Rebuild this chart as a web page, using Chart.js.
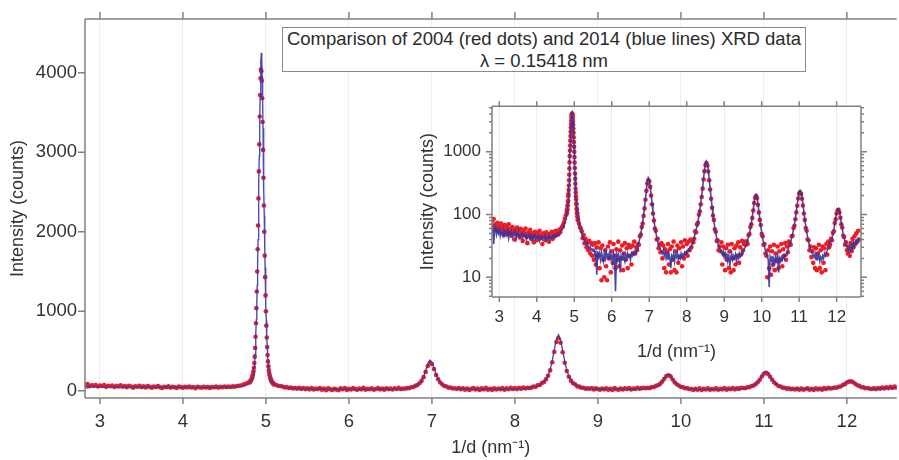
<!DOCTYPE html>
<html>
<head>
<meta charset="utf-8">
<script src="https://cdn.jsdelivr.net/npm/chart.js@4.4.1/dist/chart.umd.min.js"></script>
<style>
  html, body { margin: 0; padding: 0; background: #fff; }
  #wrap { position: relative; width: 899px; height: 460px; overflow: hidden; font-family: "Liberation Sans", Arial, Helvetica, sans-serif; }
  #main { position: absolute; left: 0; top: 0; }
  #inset { position: absolute; left: 400px; top: 85px; }
  #note { position: absolute; left: 282px; top: 27px; width: 522px; height: 43px; border: 1.5px solid #8a8a8a; background: #fff;
          text-align: center; font-size: 18.5px; line-height: 22px; color: #2b2b2b; }
</style>
</head>
<body>
<div id="wrap">
  <canvas id="main" width="899" height="460"></canvas>
  <canvas id="inset" width="499" height="280"></canvas>
  <div id="note">Comparison of 2004 (red dots) and 2014 (blue lines) XRD data<br>&lambda; = 0.15418 nm</div>
</div>
<script>
// 1/d sampling positions (nm^-1): low side, fine grid over the big peak, rest
var xLow = [
  2.8,2.825,2.85,2.875,2.9,2.925,2.95,2.975,3,3.025,3.05,3.075,3.1,3.125,3.15,3.175,3.2,3.225,3.25,3.275,
  3.3,3.325,3.35,3.375,3.4,3.425,3.45,3.475,3.5,3.525,3.55,3.575,3.6,3.625,3.65,3.675,3.7,3.725,3.75,3.775,
  3.8,3.825,3.85,3.875,3.9,3.925,3.95,3.975,4,4.025,4.05,4.075,4.1,4.125,4.15,4.175,4.2,4.225,4.25,4.275,
  4.3,4.325,4.35,4.375,4.4,4.425,4.45,4.475,4.5,4.525,4.55,4.575,4.6,4.625,4.65,4.675,4.7,4.725,4.75,4.775
];
var xMain = [
  4.8,4.805,4.81,4.815,4.82,4.825,4.83,4.835,4.84,4.845,4.85,4.855,4.86,4.865,4.87,4.875,4.88,4.885,4.89,4.895,
  4.9,4.905,4.91,4.915,4.92,4.925,4.93,4.935,4.94,4.945,4.95,4.955,4.96,4.965,4.97,4.975,4.98,4.985,4.99,4.995,
  5,5.005,5.01,5.015,5.02,5.025,5.03,5.035,5.04,5.045,5.05,5.055,5.06,5.065,5.07,5.075,5.08,5.085,5.09,5.095,
  5.1
];
var xHigh = [
  5.125,5.15,5.175,5.2,5.225,5.25,5.275,5.3,5.325,5.35,5.375,5.4,5.425,5.45,5.475,5.5,5.525,5.55,5.575,5.6,
  5.625,5.65,5.675,5.7,5.725,5.75,5.775,5.8,5.825,5.85,5.875,5.9,5.925,5.95,5.975,6,6.025,6.05,6.075,6.1,
  6.125,6.15,6.175,6.2,6.225,6.25,6.275,6.3,6.325,6.35,6.375,6.4,6.425,6.45,6.475,6.5,6.525,6.55,6.575,6.6,
  6.625,6.65,6.675,6.7,6.725,6.75,6.775,6.8,6.825,6.85,6.875,6.9,6.925,6.95,6.975,7,7.025,7.05,7.075,7.1,
  7.125,7.15,7.175,7.2,7.225,7.25,7.275,7.3,7.325,7.35,7.375,7.4,7.425,7.45,7.475,7.5,7.525,7.55,7.575,7.6,
  7.625,7.65,7.675,7.7,7.725,7.75,7.775,7.8,7.825,7.85,7.875,7.9,7.925,7.95,7.975,8,8.025,8.05,8.075,8.1,
  8.125,8.15,8.175,8.2,8.225,8.25,8.275,8.3,8.325,8.35,8.375,8.4,8.425,8.45,8.475,8.5,8.525,8.55,8.575,8.6,
  8.625,8.65,8.675,8.7,8.725,8.75,8.775,8.8,8.825,8.85,8.875,8.9,8.925,8.95,8.975,9,9.025,9.05,9.075,9.1,
  9.125,9.15,9.175,9.2,9.225,9.25,9.275,9.3,9.325,9.35,9.375,9.4,9.425,9.45,9.475,9.5,9.525,9.55,9.575,9.6,
  9.625,9.65,9.675,9.7,9.725,9.75,9.775,9.8,9.825,9.85,9.875,9.9,9.925,9.95,9.975,10,10.025,10.05,10.075,10.1,
  10.125,10.15,10.175,10.2,10.225,10.25,10.275,10.3,10.325,10.35,10.375,10.4,10.425,10.45,10.475,10.5,10.525,10.55,10.575,10.6,
  10.625,10.65,10.675,10.7,10.725,10.75,10.775,10.8,10.825,10.85,10.875,10.9,10.925,10.95,10.975,11,11.025,11.05,11.075,11.1,
  11.125,11.15,11.175,11.2,11.225,11.25,11.275,11.3,11.325,11.35,11.375,11.4,11.425,11.45,11.475,11.5,11.525,11.55,11.575,11.6,
  11.625,11.65,11.675,11.7,11.725,11.75,11.775,11.8,11.825,11.85,11.875,11.9,11.925,11.95,11.975,12,12.025,12.05,12.075,12.1,
  12.125,12.15,12.175,12.2,12.225,12.25,12.275,12.3,12.325,12.35,12.375,12.4,12.425,12.45,12.475,12.5,12.525,12.55,12.575,12.6
];

// 2014 data (blue line), counts
var blueLow = [
  52,61,34,55,63,48,57,50,58,46,55,51,44,56,49,53,47,55,42,52,
  49,54,45,50,47,53,41,49,46,51,44,48,50,43,47,45,49,40,46,44,
  48,42,45,39,46,43,47,41,44,42,46,38,43,45,40,44,42,46,39,43,
  41,45,40,44,42,46,43,47,44,48,46,50,49,53,55,58,62,68,76,88
];
var blueMain = [
  105,108,112,118,125,133,142,155,170,190,215,250,300,370,460,580,720,900,1100,1330,
  1600,1900,2250,2600,2950,3350,3700,3950,4150,4250,4150,3950,3650,3300,2900,2550,2200,1850,1550,1300,
  1080,880,700,560,450,360,300,250,215,190,170,155,142,132,122,114,107,100,95,90,
  86
];
var blueHigh = [
  74,65,57,50,46,41,39,36,33,35,30,29,31,27,28,26,29,22,25,11,
  26,21,24,19,25,22,18,24,20,26,21,23,19,25,20,22,17,24,20,6,
  23,19,24,21,12,22,19,25,21,18,23,20,24,21,22,19,24,22,25,23,
  26,25,28,31,36,42,50,60,75,98,130,180,250,330,385,360,290,210,150,110,
  82,64,52,44,38,33,30,28,26,24,27,22,25,20,23,19,24,21,14,22,
  20,24,18,23,21,25,19,22,20,24,21,23,22,25,23,26,25,28,27,30,
  32,35,39,44,50,57,66,78,95,118,150,200,270,380,520,650,705,640,510,370,
  260,185,135,100,78,62,50,42,36,32,29,27,25,23,26,21,24,20,23,19,
  22,15,21,24,19,22,20,23,18,22,20,24,21,23,25,24,27,29,32,35,
  39,44,51,60,73,92,120,160,195,208,190,150,112,85,66,52,43,36,31,27,
  25,22,19,7,21,18,22,16,20,17,21,19,22,12,20,18,21,19,22,20,
  23,22,25,27,30,33,37,42,49,58,70,88,112,145,190,228,242,225,188,145,
  110,84,66,53,44,37,32,28,26,24,23,21,24,19,22,20,23,18,21,19,
  22,20,24,22,25,27,29,32,35,38,42,48,57,70,88,108,122,125,112,92,
  73,59,49,42,37,33,31,28,26,30,27,33,29,36,32,38,35,40,37,42
];

// 2004 data (red dots), counts
var redLow = [
  78,66,85,58,70,62,74,55,67,60,72,50,64,57,68,48,62,55,70,52,
  60,46,63,54,40,58,51,62,47,56,43,59,50,38,55,48,60,44,35,52,
  46,57,41,50,45,36,53,47,39,51,44,55,42,48,34,50,45,39,52,43,
  47,37,49,44,53,41,50,45,55,47,53,48,57,52,60,64,68,75,86,97
];
var redMain = [
  112,104,121,119,137,140,161,166,196,211,245,290,350,430,540,680,850,1040,1250,1500,
  1780,2080,2420,2760,3100,3450,3720,3930,4040,4020,3900,3680,3380,3030,2680,2330,2000,1700,1430,1200,
  1000,820,670,550,450,370,310,260,225,195,175,150,144,124,121,106,104,93,92,81,
  83
];
var redHigh = [
  72,63,60,54,42,47,35,41,30,36,27,38,24,35,22,33,19,35,16,30,
  22,36,14,29,9,32,19,10,27,15,9,31,20,36,12,26,17,34,22,14,
  28,19,37,15,27,20,32,13,24,35,19,29,14,33,22,30,16,32,24,37,
  24,30,27,34,33,45,48,63,72,95,125,172,238,312,352,338,275,200,145,104,
  80,60,55,40,41,29,33,25,35,20,32,14,28,12,25,34,16,28,12,31,
  19,37,13,26,12,32,17,29,21,36,15,31,20,39,24,34,22,37,27,40,
  30,38,36,41,54,52,70,74,99,112,146,190,258,360,490,615,662,605,485,352,
  250,178,128,96,82,58,53,38,39,27,31,26,36,16,31,23,13,29,19,33,
  14,26,12,34,20,13,29,16,32,22,36,17,30,23,38,27,34,37,33,37,
  34,47,49,63,70,88,116,152,186,196,182,143,108,82,68,49,45,33,34,24,
  22,10,27,14,31,11,26,16,33,13,24,18,31,14,26,19,34,15,28,22,
  35,19,31,25,37,35,33,45,46,61,66,84,108,138,180,215,226,212,178,139,
  104,82,61,55,40,39,27,31,21,26,17,30,14,29,13,24,33,14,27,12,
  31,17,29,13,34,23,37,30,33,41,39,51,54,73,84,104,116,119,108,89,
  70,62,46,44,33,36,27,24,31,22,35,26,41,30,45,34,50,37,55,40
];

// axis ticks
var mainXTicks = [3,4,5,6,7,8,9,10,11,12];
var mainYTicks = [0,1000,2000,3000,4000];
var insetXTicks = [3,4,5,6,7,8,9,10,11,12];
var insetYTicks = [10,100,1000];
var insetYMinor = [5,6,7,8,9,20,30,40,50,60,70,80,90,200,300,400,500,600,700,800,900,2000,3000,4000,5000];

var FONT = '"Liberation Sans", Arial, Helvetica, sans-serif';
var TEXT = '#333333';
var AXIS = '#808080';
var XTITLE = '1/d (nm\u207B\u00B9)';

var xs = xLow.concat(xMain, xHigh);
var blue2014 = blueLow.concat(blueMain, blueHigh);
var red2004 = redLow.concat(redMain, redHigh);

function pts(ys){
    return xs.map(function(x, i){ return {x: x, y: ys[i]}; });
}

function setTicks(list){
    return function(axis){
        axis.ticks = list.map(function(v){ return {value: v}; });
    };
}

// frame lines and outward tick marks, drawn the way the original plot does them
var framePlugin = {
    id: 'frame',
    beforeDraw: function(chart, args, opts){
        if(opts.fill){
            var a = chart.chartArea;
            chart.ctx.save();
            chart.ctx.fillStyle = opts.fill;
            chart.ctx.fillRect(a.left, a.top, a.right - a.left, a.bottom - a.top);
            chart.ctx.restore();
        }
    },
    afterDraw: function(chart, args, opts){
        var ctx = chart.ctx, a = chart.chartArea;
        var sx = chart.scales.x, sy = chart.scales.y;
        var sides = opts.sides || [];
        ctx.save();
        ctx.strokeStyle = opts.color;
        ctx.lineWidth = opts.width;
        ctx.beginPath();
        if(sides.indexOf('left') >= 0){ ctx.moveTo(a.left, a.top); ctx.lineTo(a.left, a.bottom); }
        if(sides.indexOf('right') >= 0){ ctx.moveTo(a.right, a.top); ctx.lineTo(a.right, a.bottom); }
        if(sides.indexOf('top') >= 0){ ctx.moveTo(a.left, a.top); ctx.lineTo(a.right, a.top); }
        if(sides.indexOf('bottom') >= 0){ ctx.moveTo(a.left, a.bottom); ctx.lineTo(a.right, a.bottom); }
        (opts.xTicks || []).forEach(function(v){
            var px = sx.getPixelForValue(v);
            if(opts.topLen){ ctx.moveTo(px, a.top); ctx.lineTo(px, a.top - opts.topLen); }
            if(opts.bottomLen){ ctx.moveTo(px, a.bottom); ctx.lineTo(px, a.bottom + opts.bottomLen); }
        });
        function yMarks(list, len){
            list.forEach(function(v){
                var py = sy.getPixelForValue(v);
                ctx.moveTo(a.left, py); ctx.lineTo(a.left - len, py);
                if(opts.rightTicks){ ctx.moveTo(a.right, py); ctx.lineTo(a.right + len, py); }
            });
        }
        yMarks(opts.yTicks || [], opts.leftLen || 0);
        yMarks(opts.yMinor || [], opts.minorLen || 0);
        ctx.stroke();
        ctx.restore();
    }
};

// main chart, linear intensity
new Chart(document.getElementById('main').getContext('2d'), {
    type: 'line',
    data: {
        datasets: [
            {
                label: '2014',
                data: pts(blue2014),
                borderColor: 'rgba(58,58,165,0.9)',
                borderWidth: 1.4,
                pointRadius: 0,
                pointHoverRadius: 0,
                tension: 0,
                order: 0
            },
            {
                label: '2004',
                data: pts(red2004),
                showLine: false,
                pointRadius: 2.3,
                pointHoverRadius: 0,
                pointBorderWidth: 0,
                pointBackgroundColor: '#ee1c25',
                order: 1
            }
        ]
    },
    options: {
        responsive: false,
        animation: false,
        devicePixelRatio: 1,
        layout: { padding: { top: 17, right: 0, left: 0, bottom: 0 } },
        plugins: {
            legend: { display: false },
            tooltip: { enabled: false },
            frame: {
                color: AXIS, width: 1.5, sides: ['left', 'top', 'bottom'],
                xTicks: mainXTicks, topLen: 7, bottomLen: 6,
                yTicks: mainYTicks, leftLen: 7
            }
        },
        scales: {
            x: {
                type: 'linear', min: 2.82, max: 12.6,
                afterBuildTicks: setTicks(mainXTicks),
                afterFit: function(s){ s.height = 62; },
                grid: { color: '#eeeeee', lineWidth: 1, drawTicks: false },
                border: { display: false },
                ticks: { padding: 13, color: TEXT, autoSkip: false, maxRotation: 0,
                         font: { family: FONT, size: 18.5 },
                         callback: function(v){ return String(v); } },
                title: { display: true, text: XTITLE, color: TEXT,
                         font: { family: FONT, size: 18 }, padding: { top: 0, bottom: 1 } }
            },
            y: {
                type: 'linear', min: -90, max: 4675,
                afterBuildTicks: setTicks(mainYTicks),
                afterFit: function(s){ s.width = 85; },
                grid: { display: false, drawTicks: false },
                border: { display: false },
                ticks: { padding: 8, color: TEXT, font: { family: FONT, size: 18.5 },
                         callback: function(v){ return String(v); } },
                title: { display: true, text: 'Intensity (counts)', color: TEXT,
                         font: { family: FONT, size: 18 }, padding: { top: 7, bottom: 0 } }
            }
        }
    },
    plugins: [framePlugin]
});

// inset, log intensity
new Chart(document.getElementById('inset').getContext('2d'), {
    type: 'line',
    data: {
        datasets: [
            {
                label: '2014',
                data: pts(blue2014),
                borderColor: 'rgba(52,52,160,0.9)',
                borderWidth: 1.6,
                pointRadius: 0,
                pointHoverRadius: 0,
                tension: 0,
                order: 0
            },
            {
                label: '2004',
                data: pts(red2004),
                showLine: false,
                pointRadius: 2.3,
                pointHoverRadius: 0,
                pointBorderWidth: 0,
                pointBackgroundColor: '#ee1c25',
                order: 1
            }
        ]
    },
    options: {
        responsive: false,
        animation: false,
        devicePixelRatio: 1,
        layout: { padding: { top: 12, right: 38, left: 0, bottom: 0 } },
        plugins: {
            legend: { display: false },
            tooltip: { enabled: false },
            frame: {
                color: AXIS, width: 1.5, fill: '#ffffff', sides: ['left', 'right', 'top', 'bottom'],
                xTicks: insetXTicks, topLen: 5, bottomLen: 5,
                yTicks: insetYTicks, leftLen: 6, yMinor: insetYMinor, minorLen: 3, rightTicks: true
            }
        },
        scales: {
            x: {
                type: 'linear', min: 2.805, max: 12.65,
                afterBuildTicks: setTicks(insetXTicks),
                afterFit: function(s){ s.height = 68; },
                grid: { color: '#ececec', lineWidth: 1, drawTicks: false },
                border: { display: false },
                ticks: { padding: 10, color: TEXT, autoSkip: false, maxRotation: 0,
                         font: { family: FONT, size: 17 },
                         callback: function(v){ return String(v); } },
                title: { display: true, text: XTITLE, color: TEXT,
                         font: { family: FONT, size: 18 }, padding: { top: 0, bottom: 2 } }
            },
            y: {
                type: 'logarithmic', min: 4.86, max: 5300,
                afterBuildTicks: setTicks(insetYTicks),
                afterFit: function(s){ s.width = 92; },
                grid: { display: false, drawTicks: false },
                border: { display: false },
                ticks: { padding: 11, color: TEXT, font: { family: FONT, size: 17 },
                         callback: function(v){ return String(v); } },
                title: { display: true, text: 'Intensity (counts)', color: TEXT,
                         font: { family: FONT, size: 18 }, padding: { top: 17, bottom: 0 } }
            }
        }
    },
    plugins: [framePlugin]
});
</script>
</body>
</html>
